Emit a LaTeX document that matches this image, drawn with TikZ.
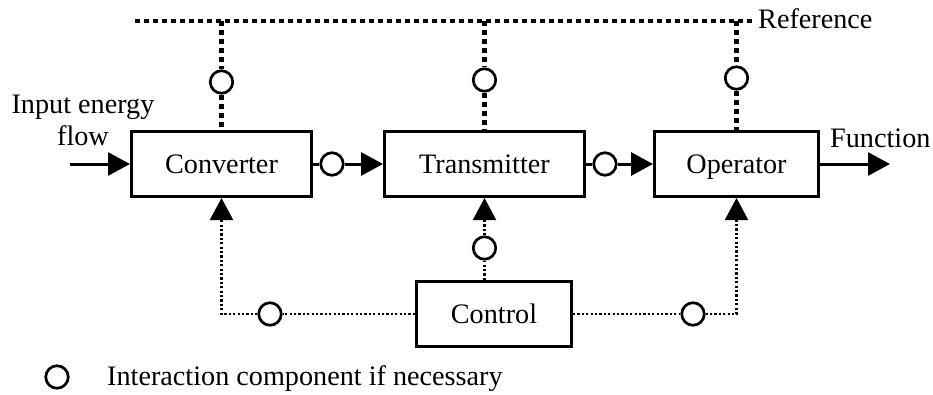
\documentclass[tikz,border=0pt]{standalone}
\usepackage{fontspec}
\setmainfont{Liberation Serif}
\usetikzlibrary{arrows.meta,calc}
\begin{document}
\begin{tikzpicture}[x=1pt,y=-1pt,
  every node/.style={font=\fontsize{28.2}{31}\selectfont},
  block/.style={draw, line width=3pt, minimum height=65pt, inner sep=0pt,
    text height=19pt, text depth=0pt},
  ic/.style={draw, circle, line width=2.7pt, minimum size=22.5pt, inner sep=0pt},
  txt/.style={inner sep=0pt},
  refline/.style={line width=4.5pt, dash pattern=on 5pt off 4pt},
  ctrlline/.style={line width=2.1pt, dash pattern=on 2.2pt off 2.2pt},
  flow/.style={line width=3pt},
  tip/.style={-{Triangle[length=22pt,width=23pt]}}
]
\useasboundingbox (0,0) rectangle (933,394);

% main blocks
\node[block, minimum width=180pt] (conv)  at (221.5,164) {Converter};
\node[block, minimum width=200pt] (trans) at (484.5,164) {Transmitter};
\node[block, minimum width=164pt] (oper)  at (736.5,164) {Operator};
\node[block, minimum width=155pt] (ctrl)  at (494,314)   {Control};

% interaction components
\node[ic] (c1) at (332,164) {};
\node[ic] (c2) at (605,164) {};
\node[ic] (r1) at (221.5,82) {};
\node[ic] (r2) at (484.5,80) {};
\node[ic] (r3) at (736.5,78) {};
\node[ic] (k1) at (270,314) {};
\node[ic] (k2) at (484.5,248) {};
\node[ic] (k3) at (693,314) {};
\node[ic] (leg) at (57,377) {};

% reference bus
\coordinate (refL) at (135,21);
\coordinate (refR) at (753,21);
\draw[refline] (refL) -- (refR);
\node[txt, anchor=base west] (reflabel) at (758,28) {Reference};
\draw[refline] (conv.north |- refL) -- (r1) -- (conv.north);
\draw[refline] (trans.north |- refL) -- (r2) -- (trans.north);
\draw[refline] (oper.north |- refL) -- (r3) -- (oper.north);

% energy flow
\coordinate (in) at (70,164);
\coordinate (out) at (890,164);
\node[txt, anchor=base] (inlabel) at (83,113) {Input energy};
\node[txt, anchor=base] (inlabel2) at (83,145) {flow};
\node[txt, anchor=base west] (outlabel) at (830,147) {Function};
\draw[flow,tip] (in) -- (conv.west);
\draw[flow] (conv.east) -- (c1);
\draw[flow,tip] (c1) -- (trans.west);
\draw[flow] (trans.east) -- (c2);
\draw[flow,tip] (c2) -- (oper.west);
\draw[flow,tip] (oper.east) -- (out);

% control paths
\coordinate (cl) at (conv.south |- ctrl.west);
\coordinate (cr) at (oper.south |- ctrl.east);
\draw[ctrlline] (ctrl.north -| k2) -- (k2);
\draw[ctrlline,tip] (k2) -- (trans.south);
\draw[ctrlline] (ctrl.west) -- (k1);
\draw[ctrlline,tip] (k1) -- (cl) -- (conv.south);
\draw[ctrlline] (ctrl.east) -- (k3);
\draw[ctrlline,tip] (k3) -- (cr) -- (oper.south);

% legend
\node[txt, anchor=base west] (legtext) at (107,385) {Interaction component if necessary};
\end{tikzpicture}
\end{document}
